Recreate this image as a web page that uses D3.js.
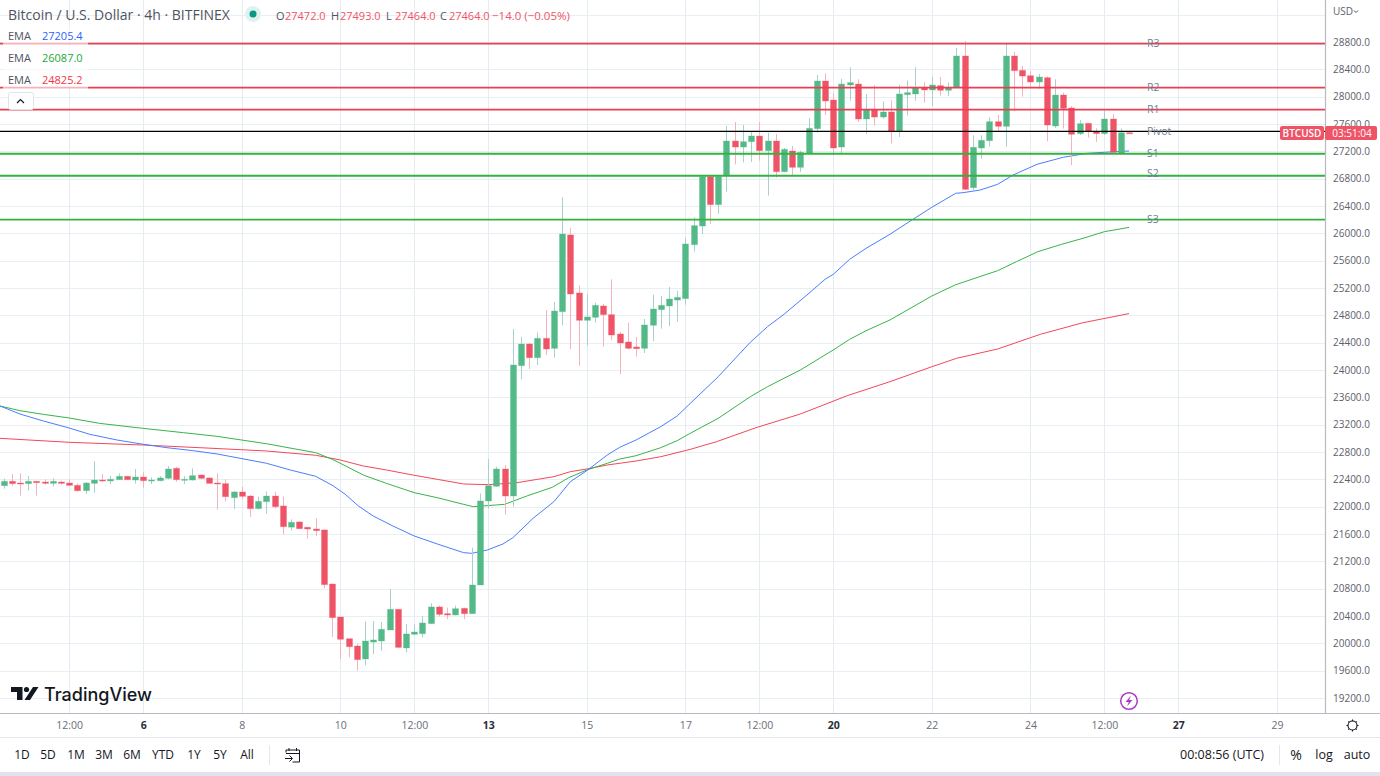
<!DOCTYPE html>
<html>
<head>
<meta charset="utf-8">
<title>BTCUSD</title>
<script src="https://cdn.jsdelivr.net/npm/d3@7"></script>
<style>
  html, body { margin: 0; padding: 0; background: #fff; overflow: hidden; }
  text { font-family: "Open Sans", sans-serif; }
  .domain { display: none; }
  .tick line { display: none; }
</style>
</head>
<body>
<svg id="chart" width="1380" height="776"></svg>
<script>
// Candles, one 4h bar per entry, first bar is 3 Mar 04:00
var opens = [
  22307,22371,22346,22337,22371,22361,22341,22361,22346,22312,
  22234,22341,22390,22376,22395,22444,22390,22434,22380,22380,
  22415,22561,22390,22390,22463,22420,22346,22337,22132,22215,
  22156,21971,22073,22156,22010,21700,21776,21698,21673,21659,
  20868,20385,20068,19961,19771,20019,20034,20195,20498,19932,
  20132,20141,20288,20532,20434,20415,20512,20434,20854,22083,
  22298,22551,22156,24063,24380,24180,24463,24317,24854,25976,
  25127,24727,24771,24937,24810,24527,24410,24337,24317,24654,
  24883,24937,25024,25044,25834,26107,26829,26420,26844,27351,
  27263,27341,27424,27210,27351,26902,27205,26966,27176,27532,
  28229,27951,27263,28171,28185,27673,27805,27702,27776,27498,
  28029,28039,28137,28098,28161,28093,28137,28595,26668,27249,
  27356,27634,27566,28595,28385,28307,28215,28278,27571,28024,
  27834,27458,27610,27488,27459,27673,27171,27472];
var closes = [
  22371,22337,22332,22371,22351,22341,22371,22341,22312,22234,
  22346,22390,22376,22400,22444,22395,22434,22380,22390,22420,
  22551,22395,22400,22454,22415,22341,22332,22146,22215,22151,
  21971,22078,22156,22000,21707,21771,21678,21673,21649,20859,
  20376,20059,19951,19761,20034,20049,20205,20498,19941,20137,
  20166,20298,20532,20424,20415,20507,20434,20854,22083,22307,
  22551,22156,24073,24380,24180,24463,24307,24863,25990,25112,
  24727,24776,24946,24810,24512,24395,24317,24312,24659,24893,
  24946,25039,25063,25844,26112,26829,26420,26829,27351,27263,
  27341,27424,27210,27351,26902,27229,26966,27185,27537,28229,
  27937,27249,28185,28205,27673,27805,27702,27776,27498,28039,
  28059,28127,28098,28171,28093,28137,28595,26644,27259,27361,
  27634,27566,28595,28380,28302,28215,28288,27585,28024,27829,
  27449,27605,27493,27459,27673,27185,27472,27464];
var highs = [
  22410,22478,22488,22449,22371,22400,22415,22380,22400,22341,
  22361,22663,22478,22449,22488,22449,22551,22502,22429,22449,
  22595,22580,22449,22561,22473,22429,22488,22400,22229,22293,
  22171,22146,22224,22220,22146,21815,21785,21707,21829,21668,
  20878,20390,20068,19990,20322,20327,20312,20795,20498,20283,
  20283,20400,20585,20556,20522,20551,20522,21400,22195,22698,
  22585,22610,24600,24483,24395,24551,24878,24995,26527,26078,
  25239,25112,24985,24966,25327,24556,24693,24483,24746,25102,
  25083,25215,25156,25932,26234,26854,26854,26854,27571,27629,
  27585,27488,27629,27473,27454,27249,27278,27210,27688,28317,
  28341,28049,28259,28429,28254,28039,28171,27932,27946,28171,
  28239,28429,28210,28288,28288,28205,28712,28815,27434,27434,
  27698,27732,28771,28654,28449,28371,28332,28298,28254,28059,
  27863,27659,27610,27537,27795,27746,27537,27493];
var lows = [
  22263,22307,22161,22234,22161,22322,22293,22322,22302,22220,
  22185,22205,22361,22332,22390,22390,22337,22278,22332,22371,
  22400,22366,22332,22380,22400,22332,21956,22078,21966,22107,
  21849,21961,21898,21976,21595,21649,21668,21532,21571,20805,
  20093,19771,19795,19600,19678,19844,19893,20195,19927,19868,
  20122,20088,20283,20390,20356,20410,20356,20434,20854,21971,
  22293,21883,22000,23863,24015,24073,24220,24180,24654,24307,
  24063,24356,24693,24341,24439,23941,24302,24195,24249,24424,
  24605,24644,24707,24956,25732,25990,26141,26288,26610,27010,
  27039,27044,27063,26551,26815,26893,26849,26898,27166,27473,
  27732,27137,27156,27941,27634,27454,27576,27678,27317,27410,
  27722,27941,27912,27863,28015,28010,28137,26634,26624,27093,
  27268,27493,27268,27790,28000,28137,28117,27346,27541,27532,
  27000,27439,27400,27337,27439,27180,27171,27464];

// EMA lines as [bar, price]
var emaFast = [
  [-0.43,23473],[2,23356],[4.85,23254],[8,23151],[10.5,23059],[13.8,22976],[17,22913],[19.9,22863],
  [23.1,22819],[26,22771],[28.8,22708],[32,22635],[34.9,22537],[38,22444],[40.1,22307],[41.6,22181],
  [43.2,22010],[45,21863],[47.4,21717],[50,21571],[52.8,21454],[56,21327],[57,21317],[58.9,21366],
  [60.8,21454],[62,21546],[64.5,21834],[67,22073],[69,22366],[71,22527],[73.5,22756],[75,22868],
  [77,22976],[80,23171],[82,23327],[83.6,23512],[87,23902],[90.9,24405],[93,24634],[95,24815],
  [97.8,25098],[100,25327],[101,25400],[103,25620],[105,25781],[107.9,25986],[110.7,26205],[113,26381],
  [115.9,26586],[116.8,26595],[118.9,26634],[121,26717],[122.9,26854],[125.8,27010],[129,27113],
  [131.9,27171],[134,27186],[137,27205.4]];
var emaMid = [
  [-0.43,23473],[2,23405],[4.85,23351],[8,23298],[11.7,23219],[17,23146],[21.9,23083],[26,23029],
  [32,22921],[38,22790],[40.1,22690],[43.8,22463],[46.6,22341],[50,22205],[52.8,22131],
  [56,22034],[57.2,22000],[61,22034],[63.7,22156],[66.8,22283],[68.8,22424],[71,22537],[73.5,22635],
  [75,22697],[77,22746],[80,22863],[82,22966],[83.6,23074],[87,23293],[90.9,23609],[93,23756],
  [97,24000],[101,24293],[103,24449],[105,24575],[107.9,24732],[113,25083],[115.9,25248],[121,25453],
  [123.3,25585],[125.9,25731],[128.8,25840],[131.4,25927],[134,26024],[137,26087]];
var emaSlow = [
  [-0.43,23000],[8,22942],[17,22902],[23.9,22863],[32,22815],[38,22752],[41,22683],[43.8,22595],
  [46.6,22537],[50,22459],[52.8,22400],[56,22332],[59,22322],[62.5,22351],[65,22400],[67,22439],
  [69,22512],[71,22551],[73.5,22610],[77,22668],[80,22731],[83.6,22839],[86.8,22951],[91.6,23156],
  [97,23356],[102.7,23624],[107.9,23829],[113,24048],[116,24171],[121,24307],[126.2,24522],
  [131.4,24692],[137,24825.2]];

// Pivot levels
var pivotNames = ["R3", "R2", "R1", "Pivot", "S1", "S2", "S3"];
var pivotLevels = [28775, 28131, 27809, 27493, 27165, 26843, 26200];

// Axis ticks
var priceTicks = d3.range(19200, 29201, 400);
var timeBars = [8, 17, 29, 41, 50, 59, 71, 83, 92, 101, 113, 125, 134, 143, 155];
var timeLabels = ["12:00", "6", "8", "10", "12:00", "13", "15", "17", "12:00", "20", "22", "24", "12:00", "27", "29"];
var boldLabels = ["6", "13", "20", "27"];
var rangeButtons = ["1D", "5D", "1M", "3M", "6M", "YTD", "1Y", "5Y", "All"];
var rangeCenters = [22, 48, 76, 104, 132, 163, 194, 220, 247];

var upColor = "#53b987", downColor = "#ef5366";
var svg = d3.select("#chart");

var x = d3.scaleLinear().domain([0, 137]).range([3.5, 1129]);
var y = d3.scaleLinear().domain([28800, 19200]).range([42, 698]);

var paneRight = 1325, paneBottom = 713;

// Grid
svg.append("g").selectAll("line").data(priceTicks).join("line")
  .attr("x1", 0).attr("x2", paneRight)
  .attr("y1", d => Math.round(y(d)) + 0.5).attr("y2", d => Math.round(y(d)) + 0.5)
  .attr("stroke", "#e9eef3").attr("stroke-width", 1);
svg.append("g").selectAll("line").data(timeBars).join("line")
  .attr("x1", d => Math.round(x(d)) + 0.5).attr("x2", d => Math.round(x(d)) + 0.5)
  .attr("y1", 0).attr("y2", paneBottom)
  .attr("stroke", "#e6edf2").attr("stroke-width", 1);

// EMA lines sit under the candles
var emaLine = d3.line().x(d => x(d[0])).y(d => y(d[1]));
[[emaSlow, "#f2485a"], [emaMid, "#38b448"], [emaFast, "#4a7dff"]].forEach(function(s) {
  svg.append("path").attr("d", emaLine(s[0]))
    .attr("fill", "none").attr("stroke", s[1]).attr("stroke-width", 1);
});

// Candles
var bars = d3.range(opens.length);
function barColor(i) { return closes[i] >= opens[i] ? upColor : downColor; }
function wickColor(i) { return closes[i] >= opens[i] ? "#a8d0cd" : "#f7b3bc"; }

var candles = svg.append("g");
candles.selectAll("line").data(bars).join("line")
  .attr("x1", i => Math.round(x(i)) + 0.5).attr("x2", i => Math.round(x(i)) + 0.5)
  .attr("y1", i => y(highs[i])).attr("y2", i => y(lows[i]))
  .attr("stroke", wickColor).attr("stroke-width", 1);
candles.selectAll("rect").data(bars).join("rect")
  .attr("x", i => Math.round(x(i)) - 2.5)
  .attr("width", 6)
  .attr("y", i => y(Math.max(opens[i], closes[i])))
  .attr("height", i => Math.max(1, Math.abs(y(opens[i]) - y(closes[i]))))
  .attr("fill", barColor)
  .attr("stroke", barColor).attr("stroke-opacity", 0.3).attr("stroke-width", 1);

// Pivot lines and their names
var pivots = svg.append("g");
pivots.selectAll("line").data(pivotLevels).join("line")
  .attr("x1", 0).attr("x2", paneRight)
  .attr("y1", d => y(d)).attr("y2", d => y(d))
  .attr("stroke", (d, i) => i < 3 ? "#ea3f52" : i === 3 ? "#000" : "#33b240")
  .attr("stroke-width", (d, i) => i === 3 ? 1.2 : 1.8);
pivots.selectAll("text").data(pivotNames).join("text")
  .attr("x", 1147).attr("y", (d, i) => y(pivotLevels[i]) + (i === 5 ? 1.5 : 3.5))
  .attr("fill", "#6f7f8f").attr("font-size", 10.5).text(d => d);

// Header legend
svg.append("rect").attr("x", 3).attr("y", 27).attr("width", 85).attr("height", 62)
  .attr("fill", "#fff").attr("fill-opacity", 0.6);
svg.append("text").attr("x", 8).attr("y", 20).attr("font-size", 14).attr("fill", "#50535e")
  .text("Bitcoin / U.S. Dollar · 4h · BITFINEX");
svg.append("circle").attr("cx", 253).attr("cy", 14).attr("r", 8).attr("fill", "#e0f2ef");
svg.append("circle").attr("cx", 253).attr("cy", 14).attr("r", 3.5).attr("fill", "#089981");

var ohlcNames = ["O", "H", "L", "C"];
var ohlcValues = ["27472.0", "27493.0", "27464.0", "27464.0"];
var ohlcNameX = [276, 331, 386, 440];
ohlcNames.forEach(function(n, i) {
  svg.append("text").attr("x", ohlcNameX[i]).attr("y", 20).attr("font-size", 11).attr("fill", "#50535e").text(n);
  svg.append("text").attr("x", ohlcNameX[i] + 9).attr("y", 20).attr("font-size", 11).attr("fill", downColor).text(ohlcValues[i]);
});
svg.append("text").attr("x", 492).attr("y", 20).attr("font-size", 11.5).attr("fill", downColor).text("−14.0 (−0.05%)");

var emaValues = ["27205.4", "26087.0", "24825.2"];
var emaColors = ["#2962ff", "#22a83a", "#f23645"];
var emaRows = [40, 62, 83.5];
emaValues.forEach(function(v, i) {
  svg.append("text").attr("x", 8).attr("y", emaRows[i]).attr("font-size", 11).attr("fill", "#50535e").text("EMA");
  svg.append("text").attr("x", 42).attr("y", emaRows[i]).attr("font-size", 11).attr("fill", emaColors[i]).text(v);
});

// Collapse button
svg.append("rect").attr("x", 8.5).attr("y", 92.5).attr("width", 25).attr("height", 17).attr("rx", 2)
  .attr("fill", "#fff").attr("stroke", "#e0e3eb");
svg.append("path").attr("d", "M17 103L20.5 99.5L24 103").attr("fill", "none").attr("stroke", "#131722").attr("stroke-width", 1.2);

// Logo
svg.append("path").attr("fill", "#131722")
  .attr("d", "M11 687H22.5V700H17V692H11Z M33 687H38.5L30 700H24.5Z");
svg.append("circle").attr("cx", 26.5).attr("cy", 689.5).attr("r", 2.6).attr("fill", "#131722");
svg.append("text").attr("x", 44).attr("y", 700.5).attr("font-size", 18)
  .attr("font-weight", 500).style("font-family", "Inter").attr("fill", "#131722").text("TradingView");

// Lightning badge
svg.append("circle").attr("cx", 1129).attr("cy", 701).attr("r", 8.3).attr("fill", "#fff").attr("stroke", "#ab3bc4").attr("stroke-width", 1.5);
svg.append("path").attr("d", "M1131 695.5L1125.5 702H1128.8L1127 706.5L1132.5 700H1129.2Z").attr("fill", "#ab3bc4");

// Price axis
svg.append("rect").attr("x", paneRight).attr("y", 0).attr("width", 55).attr("height", 737).attr("fill", "#fff");
var yAxis = d3.axisRight(y).tickValues(priceTicks.filter(d => d <= 28800)).tickSize(0).tickPadding(8).tickFormat(d3.format(".1f"));
svg.append("g").attr("transform", "translate(" + paneRight + ",0)").call(yAxis)
  .selectAll("text").attr("font-size", 10).attr("fill", "#5d606b").attr("font-family", null);
svg.append("line").attr("x1", paneRight + 0.5).attr("x2", paneRight + 0.5).attr("y1", 0).attr("y2", 737)
  .attr("stroke", "#b7bac2").attr("stroke-width", 1.2);
svg.append("text").attr("x", 1333).attr("y", 15).attr("font-size", 10).attr("fill", "#5d606b").text("USD");
svg.append("path").attr("d", "M1354 10.5L1356 12.5L1358 10.5").attr("fill", "none").attr("stroke", "#50535e");

// Price tag
svg.append("rect").attr("x", 1280).attr("y", 126).attr("width", 44).attr("height", 14).attr("rx", 2).attr("fill", downColor);
svg.append("rect").attr("x", 1325).attr("y", 126).attr("width", 52).attr("height", 14).attr("rx", 2).attr("fill", downColor);
svg.append("text").attr("x", 1302).attr("y", 136.8).attr("text-anchor", "middle").attr("font-size", 10).attr("font-weight", 600).attr("fill", "#fff").text("BTCUSD");
svg.append("text").attr("x", 1352).attr("y", 136.8).attr("text-anchor", "middle").attr("font-size", 10).attr("fill", "#fff").text("03:51:04");

// Time axis
svg.append("rect").attr("x", 0).attr("y", paneBottom).attr("width", 1380).attr("height", 24).attr("fill", "#fff");
var xAxis = d3.axisBottom(x).tickValues(timeBars).tickSize(0).tickPadding(9).tickFormat((d, i) => timeLabels[i]);
svg.append("g").attr("transform", "translate(0," + paneBottom + ")").call(xAxis)
  .selectAll("text").attr("font-size", 10.5).attr("font-family", null)
  .attr("fill", (d, i) => boldLabels.includes(timeLabels[i]) ? "#2a2e39" : "#6a6d78")
  .attr("font-weight", (d, i) => boldLabels.includes(timeLabels[i]) ? 700 : 400);
svg.append("line").attr("x1", 0).attr("x2", 1380).attr("y1", paneBottom + 0.5).attr("y2", paneBottom + 0.5)
  .attr("stroke", "#b7bac2").attr("stroke-width", 1.2);

// Gear
svg.append("circle").attr("cx", 1352.5).attr("cy", 725.5).attr("r", 4.5).attr("fill", "none").attr("stroke", "#131722").attr("stroke-width", 1.1);
svg.append("path").attr("fill", "none").attr("stroke", "#131722").attr("stroke-width", 1.1)
  .attr("d", "M1352.5 719.5V721M1352.5 730V731.5M1346.5 725.5H1348M1357 725.5H1358.5M1348.3 721.3L1349.3 722.3M1355.7 728.7L1356.7 729.7M1348.3 729.7L1349.3 728.7M1355.7 722.3L1356.7 721.3");

// Bottom toolbar
svg.append("line").attr("x1", 0).attr("x2", 1380).attr("y1", 737.5).attr("y2", 737.5).attr("stroke", "#e4e6eb");
svg.append("g").selectAll("text").data(rangeButtons).join("text")
  .attr("x", (d, i) => rangeCenters[i]).attr("y", 759).attr("text-anchor", "middle")
  .attr("font-size", 12).attr("fill", "#131722").text(d => d);
svg.append("line").attr("x1", 269.5).attr("x2", 269.5).attr("y1", 745).attr("y2", 765).attr("stroke", "#e4e6eb");
svg.append("path").attr("fill", "none").attr("stroke", "#131722").attr("stroke-width", 1)
  .attr("d", "M286 752.5V750H299.5V762H292.5M286 753.5H299.5M289 748V751M296.5 748V751M285 758.5H292M289.5 755.5L292.5 758.5L289.5 761.5");
svg.append("text").attr("x", 1222).attr("y", 759).attr("text-anchor", "middle").attr("font-size", 12.5).attr("fill", "#131722").text("00:08:56 (UTC)");
svg.append("line").attr("x1", 1279.5).attr("x2", 1279.5).attr("y1", 745).attr("y2", 765).attr("stroke", "#e4e6eb");
svg.append("text").attr("x", 1296).attr("y", 760).attr("text-anchor", "middle").attr("font-size", 14).attr("fill", "#131722").text("%");
svg.append("text").attr("x", 1324).attr("y", 759).attr("text-anchor", "middle").attr("font-size", 12.5).attr("fill", "#131722").text("log");
svg.append("text").attr("x", 1357).attr("y", 759).attr("text-anchor", "middle").attr("font-size", 12.5).attr("fill", "#131722").text("auto");
svg.append("rect").attr("x", 0).attr("y", 772).attr("width", 1380).attr("height", 4).attr("fill", "#e0e3eb");
</script>
</body>
</html>
